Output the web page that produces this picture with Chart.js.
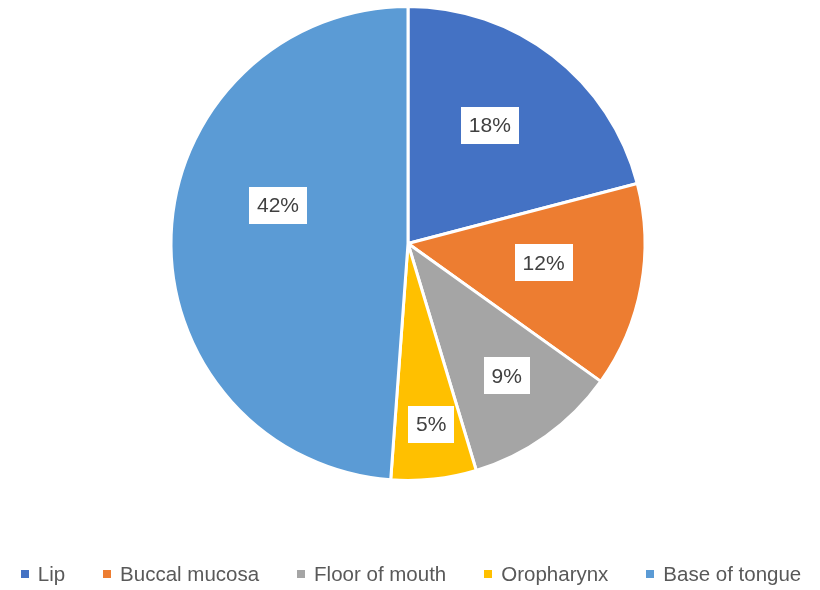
<!DOCTYPE html>
<html>
<head>
<meta charset="utf-8">
<script src="https://cdn.jsdelivr.net/npm/chart.js@4.4.1/dist/chart.umd.min.js"></script>
<style>
  html, body { margin: 0; padding: 0; background: #ffffff; }
  #wrap { width: 820px; height: 590px; }
</style>
</head>
<body>
<div id="wrap"><canvas id="pieChart" width="820" height="590"></canvas></div>
<script>
const categories = ['Lip', 'Buccal mucosa', 'Floor of mouth', 'Oropharynx', 'Base of tongue'];
const values = [18, 12, 9, 5, 42];
const colors = ['#4472C4', '#ED7D31', '#A5A5A5', '#FFC000', '#5B9BD5'];

// where each value box sits: [fraction of radius, angle shift in degrees]
const labelPlacement = [[0.607, -3], [0.578, -2.3], [0.697, -1.1], [0.77, -1], [0.572, 14.4]];

const textFont = '"Liberation Sans", Arial, sans-serif';

const valueBoxes = {
  id: 'valueBoxes',
  afterDatasetsDraw(chart) {
    const ctx = chart.ctx;
    const arcs = chart.getDatasetMeta(0).data;
    ctx.save();
    ctx.font = '21px ' + textFont;
    ctx.textAlign = 'center';
    ctx.textBaseline = 'middle';
    arcs.forEach((arc, i) => {
      const p = arc.getProps(['x', 'y', 'startAngle', 'endAngle', 'outerRadius'], true);
      const [frac, shift] = labelPlacement[i];
      const a = (p.startAngle + p.endAngle) / 2 + shift * Math.PI / 180;
      const cx = p.x + Math.cos(a) * p.outerRadius * frac;
      const cy = p.y + Math.sin(a) * p.outerRadius * frac;
      const txt = values[i] + '%';
      const w = ctx.measureText(txt).width + 16;
      const h = 37;
      ctx.fillStyle = '#ffffff';
      ctx.fillRect(Math.round(cx - w / 2), Math.round(cy - h / 2), Math.round(w), h);
      ctx.fillStyle = '#404040';
      ctx.fillText(txt, cx, cy + 1);
    });
    ctx.restore();
  }
};

const bottomLegend = {
  id: 'bottomLegend',
  afterDraw(chart) {
    const ctx = chart.ctx;
    ctx.save();
    ctx.font = '20.5px ' + textFont;
    ctx.textBaseline = 'middle';
    const box = 8, boxGap = 9, itemGap = 38;
    const widths = categories.map(c => box + boxGap + ctx.measureText(c).width);
    const total = widths.reduce((s, w) => s + w, 0) + itemGap * (categories.length - 1);
    let x = 411 - total / 2;
    const y = 574;
    categories.forEach((c, i) => {
      ctx.fillStyle = colors[i];
      ctx.fillRect(Math.round(x), y - 4, box, box);
      ctx.fillStyle = '#595959';
      ctx.fillText(c, x + box + boxGap, y + 1);
      x += widths[i] + itemGap;
    });
    ctx.restore();
  }
};

new Chart(document.getElementById('pieChart'), {
  type: 'pie',
  data: {
    labels: categories,
    datasets: [{
      data: values,
      backgroundColor: colors,
      borderColor: '#ffffff',
      borderWidth: 3
    }]
  },
  options: {
    responsive: false,
    animation: false,
    radius: 237,
    layout: { padding: { top: 7, bottom: 110, left: 0, right: 4 } },
    plugins: {
      legend: { display: false },
      tooltip: { enabled: false }
    }
  },
  plugins: [valueBoxes, bottomLegend]
});
</script>
</body>
</html>
